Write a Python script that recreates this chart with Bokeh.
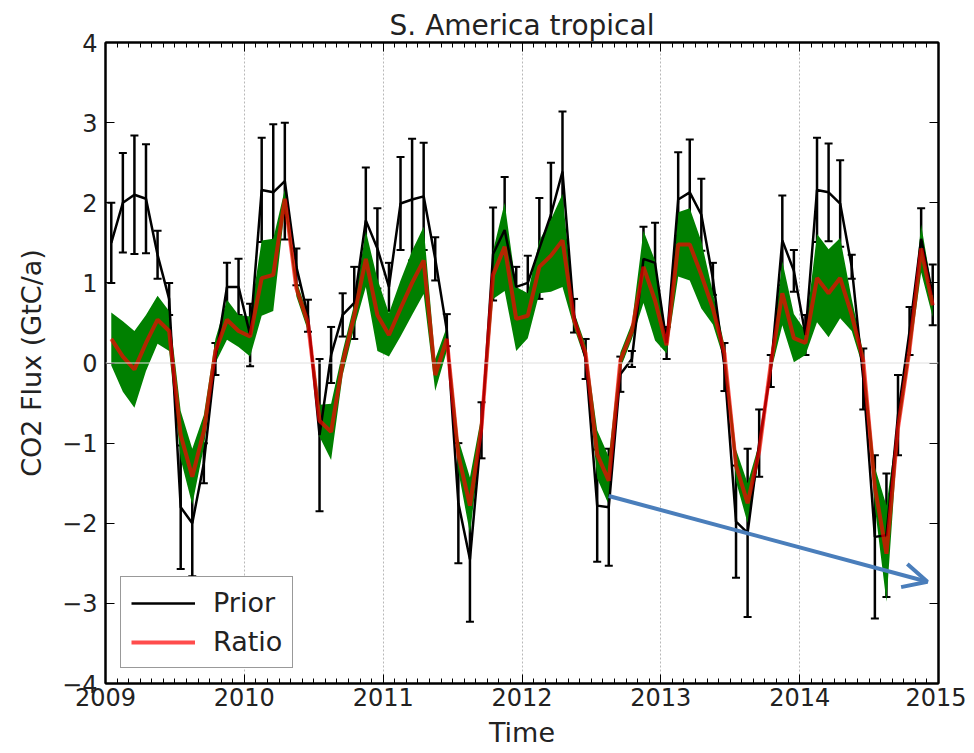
import numpy as np
from bokeh.plotting import figure
from bokeh.models import (ColumnDataSource, FixedTicker, LinearAxis, Range1d,
                          Whisker, TeeHead, Arrow, OpenHead, Span, Legend, LegendItem,
                          CustomJSTickFormatter)
from bokeh.embed import file_html
from bokeh.resources import INLINE

# ---------------- data (monthly, Jan 2009 .. Dec 2014) ----------------
start_year = 2009
n_months = 72

prior = [1.5, 2.0, 2.1, 2.05, 1.35, 0.8, -1.8, -2.0, -1.25, 0.05, 0.95, 0.95,
         0.35, 2.16, 2.13, 2.27, 1.2, 0.59, -0.9, 0.1, 0.6, 0.75, 1.78, 1.43,
         0.95, 1.99, 2.04, 2.08, 1.3, 0.41, -1.75, -2.45, -0.84, 1.36, 1.66, 0.95,
         1.0, 1.43, 1.85, 2.39, 0.59, 0.05, -1.78, -1.8, -0.14, 0.05, 1.3, 1.25,
         0.25, 2.04, 2.13, 1.85, 1.05, -0.05, -1.98, -2.12, -1.0, -0.1, 1.53, 1.15,
         0.35, 2.16, 2.13, 1.99, 1.2, -0.2, -2.17, -2.15, -0.65, 0.4, 1.55, 0.85]

prior_err = [0.5, 0.62, 0.74, 0.68, 0.3, 0.2, 0.77, 0.66, 0.25, 0.2, 0.3, 0.35,
             0.39, 0.65, 0.85, 0.73, 0.23, 0.2, 0.95, 0.35, 0.27, 0.45, 0.66, 0.5,
             0.3, 0.58, 0.76, 0.67, 0.27, 0.2, 0.75, 0.78, 0.35, 0.58, 0.66, 0.25,
             0.34, 0.63, 0.65, 0.75, 0.21, 0.25, 0.7, 0.73, 0.22, 0.1, 0.4, 0.5,
             0.2, 0.59, 0.66, 0.45, 0.2, 0.3, 0.7, 1.05, 0.42, 0.2, 0.56, 0.26,
             0.25, 0.65, 0.61, 0.54, 0.15, 0.38, 1.02, 0.77, 0.5, 0.3, 0.38, 0.38]

ratio = [0.3, 0.08, -0.08, 0.25, 0.54, 0.4, -0.9, -1.42, -0.85, 0.15, 0.54, 0.4,
         0.33, 1.06, 1.1, 2.05, 0.93, 0.5, -0.72, -0.86, 0.0, 0.59, 1.3, 0.6,
         0.35, 0.68, 1.0, 1.28, -0.15, 0.3, -1.15, -1.78, -0.8, 1.1, 1.45, 0.55,
         0.59, 1.2, 1.34, 1.53, 0.54, 0.12, -1.14, -1.47, 0.03, 0.4, 1.2, 0.78,
         0.22, 1.48, 1.48, 1.1, 0.68, 0.12, -1.28, -1.75, -1.1, -0.02, 0.87, 0.31,
         0.25, 1.06, 0.87, 1.06, 0.6, 0.03, -1.55, -2.38, -0.81, 0.17, 1.43, 0.72]

ratio_spread = [0.33, 0.44, 0.48, 0.35, 0.3, 0.25, 0.3, 0.35, 0.2, 0.15, 0.25, 0.2,
                0.25, 0.47, 0.45, 0.12, 0.1, 0.1, 0.2, 0.35, 0.15, 0.15, 0.35, 0.45,
                0.27, 0.35, 0.4, 0.42, 0.2, 0.15, 0.2, 0.35, 0.15, 0.3, 0.55, 0.4,
                0.28, 0.33, 0.45, 0.58, 0.1, 0.1, 0.3, 0.3, 0.1, 0.1, 0.45, 0.5,
                0.1, 0.4, 0.45, 0.42, 0.2, 0.1, 0.2, 0.25, 0.1, 0.1, 0.4, 0.3,
                0.15, 0.55, 0.55, 0.5, 0.2, 0.1, 0.25, 0.6, 0.1, 0.1, 0.3, 0.15]

year_ticks = [2009, 2010, 2011, 2012, 2013, 2014, 2015]
y_ticks = [-4, -3, -2, -1, 0, 1, 2, 3, 4]

# annotation arrow (data coordinates)
arrow_start = (2012.625, -1.66)
arrow_end = (2014.92, -2.73)

# ---------------- derived ----------------
t = start_year + (np.arange(n_months) + 0.5) / 12.0
prior_a = np.array(prior)
perr = np.array(prior_err)
ratio_a = np.array(ratio)
rspread = np.array(ratio_spread)

src = ColumnDataSource(dict(t=t, prior=prior_a, upper=prior_a + perr, lower=prior_a - perr,
                            ratio=ratio_a, r_hi=ratio_a + rspread, r_lo=ratio_a - rspread))

FONT = "DejaVu Sans"
TXT = "#222222"

p = figure(width=966, height=750, x_range=Range1d(2009, 2015), y_range=Range1d(-4, 4),
           output_backend="svg", toolbar_location=None,
           min_border_left=105, min_border_right=28, min_border_top=42, min_border_bottom=65,
           title="S. America tropical")

p.title.text_font = FONT
p.title.text_font_size = "28px"
p.title.text_font_style = "normal"
p.title.text_color = TXT
p.title.align = "center"
p.title.standoff = 2

p.outline_line_color = "black"
p.outline_line_width = 2

minor = [start_year + k / 12.0 for k in range(n_months + 1)]
xticker = FixedTicker(ticks=year_ticks, minor_ticks=minor)
yticker = FixedTicker(ticks=y_ticks, minor_ticks=[])

# grids
p.xgrid.ticker = FixedTicker(ticks=year_ticks[1:-1])
p.xgrid.grid_line_color = "#b8b8b8"
p.xgrid.grid_line_dash = "2 2"
p.xgrid.grid_line_width = 1
p.ygrid.visible = False
p.add_layout(Span(location=0, dimension="width", line_color="#e0e0e0", line_width=1))

def style_axis(ax):
    ax.axis_line_color = "black"
    ax.axis_line_width = 2
    ax.major_tick_in = 9
    ax.major_tick_out = 0
    ax.minor_tick_in = 5
    ax.minor_tick_out = 0
    ax.major_tick_line_color = "black"
    ax.minor_tick_line_color = "black"
    ax.major_tick_line_width = 1
    ax.minor_tick_line_width = 1
    ax.major_label_text_font = FONT
    ax.major_label_text_font_size = "24px"
    ax.major_label_text_color = TXT
    ax.axis_label_text_font = FONT
    ax.axis_label_text_font_size = "27px"
    ax.axis_label_text_font_style = "normal"
    ax.axis_label_text_color = TXT

xa = p.xaxis[0]
xa.ticker = xticker
style_axis(xa)
xa.major_label_standoff = 4
xa.axis_label = "Time"
xa.axis_label_standoff = 8
xa.major_label_overrides = {y: str(y) for y in year_ticks}

ya = p.yaxis[0]
ya.ticker = yticker
style_axis(ya)
ya.major_label_standoff = 8
ya.axis_label = "CO2 Flux (GtC/a)"
ya.axis_label_standoff = 12
ya.major_label_overrides = {v: ("\u2212%d" % -v if v < 0 else str(v)) for v in y_ticks}

blank = CustomJSTickFormatter(code="return '';")
top = LinearAxis(ticker=xticker, formatter=blank)
style_axis(top)
top.major_label_standoff = 0
p.add_layout(top, "above")
right = LinearAxis(ticker=yticker, formatter=CustomJSTickFormatter(code="return '';"))
style_axis(right)
right.major_label_standoff = 0
p.add_layout(right, "right")

# green band (Ratio uncertainty)
p.varea(x="t", y1="r_lo", y2="r_hi", source=src, fill_color="#008000", fill_alpha=1.0)

# Prior line + error bars
prior_r = p.line(x="t", y="prior", source=src, line_color="black", line_width=2.5)
p.add_layout(Whisker(source=src, base="t", upper="upper", lower="lower",
                     line_color="black", line_width=2.5,
                     upper_head=TeeHead(size=8, line_color="black", line_width=2),
                     lower_head=TeeHead(size=8, line_color="black", line_width=2)))

# Ratio line
ratio_r = p.line(x="t", y="ratio", source=src, line_color="red", line_alpha=0.7, line_width=4)

# annotation arrow
p.add_layout(Arrow(x_start=arrow_start[0], y_start=arrow_start[1],
                   x_end=arrow_end[0], y_end=arrow_end[1],
                   line_color="#4a7ebb", line_width=4,
                   end=OpenHead(size=24, line_color="#4a7ebb", line_width=4)))

legend = Legend(items=[LegendItem(label="Prior", renderers=[prior_r]),
                       LegendItem(label="Ratio", renderers=[ratio_r])],
                location="bottom_left")
legend.margin = 15
legend.padding = 10
legend.spacing = 8
legend.glyph_width = 64
legend.glyph_height = 30
legend.label_height = 30
legend.label_standoff = 18
legend.label_text_font = FONT
legend.label_text_font_size = "27px"
legend.label_text_color = TXT
legend.border_line_color = "#333333"
legend.border_line_width = 1.5
legend.background_fill_color = "white"
legend.background_fill_alpha = 1.0
p.add_layout(legend)

open("out.html", "w").write(file_html(p, INLINE))
